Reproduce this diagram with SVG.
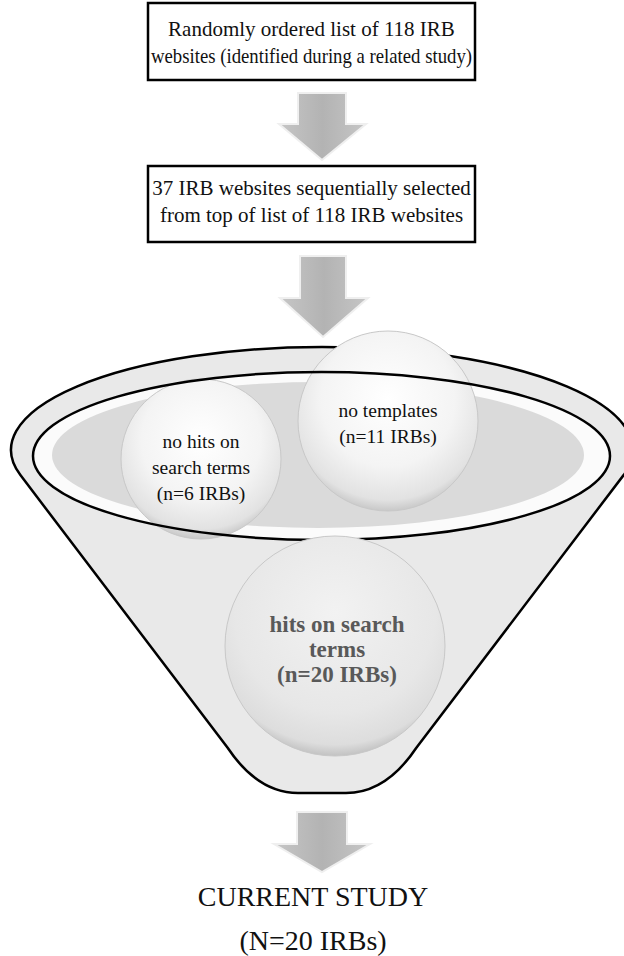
<svg xmlns="http://www.w3.org/2000/svg" width="624" height="956" viewBox="0 0 624 956">
  <style>
    .box { fill: #ffffff; stroke: #000000; stroke-width: 2.5; }
    .t { font-family: "Liberation Serif", "Times New Roman", serif; fill: #111111; text-anchor: middle; }
    .tb { font-size: 21px; }
    .tc { font-size: 19.5px; }
    .tbold { font-size: 23px; font-weight: bold; fill: #595959; }
    .tr { font-size: 28px; }
    .arrow { fill: url(#arrowGrad); stroke: #efefef; stroke-width: 2; }
    .circ { fill: url(#ballGrad); stroke: #c8c8c8; stroke-width: 1; }
    .line { fill: none; stroke: #000000; stroke-width: 2.5; }
  </style>
  <defs>
    <linearGradient id="arrowGrad" x1="0" y1="0" x2="1" y2="0">
      <stop offset="0" stop-color="#c6c6c6"/>
      <stop offset="0.5" stop-color="#b3b3b3"/>
      <stop offset="1" stop-color="#c6c6c6"/>
    </linearGradient>
    <radialGradient id="ballGrad" cx="0.5" cy="0.38" r="0.62">
      <stop offset="0" stop-color="#ffffff"/>
      <stop offset="0.6" stop-color="#f4f4f4"/>
      <stop offset="0.9" stop-color="#e2e2e2"/>
      <stop offset="1" stop-color="#c8c8c8"/>
    </radialGradient>
    <radialGradient id="bigBall" cx="0.5" cy="0.35" r="0.65">
      <stop offset="0" stop-color="#f2f2f2"/>
      <stop offset="0.7" stop-color="#e7e7e7"/>
      <stop offset="0.92" stop-color="#dddddd"/>
      <stop offset="1" stop-color="#c2c2c2"/>
    </radialGradient>
  </defs>

  <g id="box1">
    <rect class="box" x="148" y="3" width="327" height="77"/>
    <text class="t tb" x="311.5" y="36">Randomly ordered list of 118 IRB</text>
    <text class="t tb" x="311.5" y="63" textLength="321" lengthAdjust="spacingAndGlyphs">websites (identified during a related study)</text>
  </g>

  <g id="box2">
    <rect class="box" x="148" y="166" width="327" height="76"/>
    <text class="t tb" x="311.5" y="195">37 IRB websites sequentially selected</text>
    <text class="t tb" x="311.5" y="222">from top of list of 118 IRB websites</text>
  </g>

  <g id="funnel">
    <path d="M 20.4,475.1 A 311,103 0 1 1 623.6,475.1 L 416.2,748 Q 386,793 346,793 L 298,793 Q 258,793 227.8,748 Z" fill="#e9e9e9" stroke="#000" stroke-width="2.5"/>
    <ellipse cx="321.5" cy="456" rx="288.5" ry="84" fill="#fbfbfb"/>
    <ellipse cx="318" cy="455" rx="266" ry="73" fill="#dadada"/>
  </g>

  <g id="node-nohits">
    <circle class="circ" cx="201" cy="459" r="80"/>
    <text class="t tc" x="201" y="448">no hits on</text>
    <text class="t tc" x="201" y="474">search terms</text>
    <text class="t tc" x="201" y="500">(n=6 IRBs)</text>
  </g>

  <g id="node-notemplates">
    <circle class="circ" cx="388" cy="421" r="90"/>
    <text class="t tc" x="388" y="417">no templates</text>
    <text class="t tc" x="388" y="443">(n=11 IRBs)</text>
  </g>

  <g id="funnel-rim">
    <ellipse class="line" cx="321.5" cy="456" rx="288.5" ry="84"/>
  </g>

  <g id="node-hits">
    <circle cx="335" cy="646" r="110" fill="url(#bigBall)" stroke="#c8c8c8" stroke-width="1"/>
    <text class="t tbold" x="337" y="632">hits on search</text>
    <text class="t tbold" x="337" y="657">terms</text>
    <text class="t tbold" x="337" y="682">(n=20 IRBs)</text>
  </g>

  <g id="connectors">
    <path class="arrow" d="M 298,93 L 346,93 L 346,124 L 366,124 L 322,160 L 279,124 L 298,124 Z"/>
    <path class="arrow" d="M 300,256 L 346,256 L 346,298 L 368,298 L 323,337 L 280,298 L 300,298 Z"/>
    <path class="arrow" d="M 297,812 L 347,812 L 347,844 L 370,844 L 322,872 L 274,844 L 297,844 Z"/>
  </g>

  <g id="result">
    <text class="t tr" x="313" y="906">CURRENT STUDY</text>
    <text class="t tr" x="313" y="950">(N=20 IRBs)</text>
  </g>
</svg>
